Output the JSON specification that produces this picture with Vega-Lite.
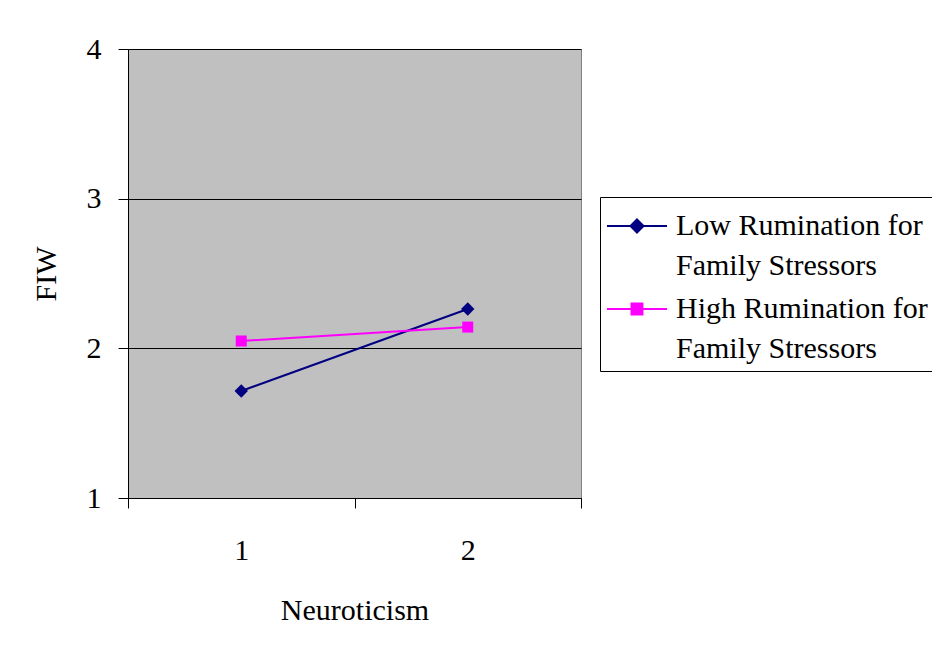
{
  "$schema": "https://vega.github.io/schema/vega-lite/v6.json",
  "width": 453,
  "height": 449,
  "autosize": {"type": "none"},
  "padding": {"left": 128, "top": 49, "right": 351, "bottom": 159},
  "background": "white",
  "config": {
    "font": "Liberation Serif",
    "view": {"fill": "#C0C0C0", "stroke": "#808080", "strokeWidth": 1},
    "axis": {
      "domainColor": "black",
      "tickColor": "black",
      "labelColor": "black",
      "titleColor": "black",
      "labelFont": "Liberation Serif",
      "titleFont": "Liberation Serif",
      "labelFontSize": 30,
      "titleFontSize": 30,
      "titleFontWeight": "normal",
      "tickSize": 10
    }
  },
  "data": {
    "values": [
      {"n": "1", "g": "Low Rumination for Family Stressors", "fiw": 1.715},
      {"n": "2", "g": "Low Rumination for Family Stressors", "fiw": 2.263},
      {"n": "1", "g": "High Rumination for Family Stressors", "fiw": 2.049},
      {"n": "2", "g": "High Rumination for Family Stressors", "fiw": 2.142}
    ]
  },
  "encoding": {
    "x": {
      "field": "n",
      "type": "ordinal",
      "scale": {"type": "band", "paddingInner": 0, "paddingOuter": 0},
      "axis": {
        "title": "Neuroticism",
        "labelAngle": 0,
        "tickBand": "extent",
        "labelPadding": 27,
        "titlePadding": 30
      }
    },
    "y": {
      "field": "fiw",
      "type": "quantitative",
      "scale": {"domain": [1, 4], "nice": false, "zero": false},
      "axis": {
        "title": "FIW",
        "values": [1, 2, 3, 4],
        "format": "d",
        "grid": true,
        "gridColor": "black",
        "gridOpacity": 1,
        "gridWidth": 1,
        "labelPadding": 17,
        "titlePadding": 25
      }
    },
    "color": {
      "field": "g",
      "type": "nominal",
      "scale": {
        "domain": ["Low Rumination for Family Stressors", "High Rumination for Family Stressors"],
        "range": ["#000080", "#FF00FF"]
      }
    }
  },
  "layer": [
    {
      "mark": {"type": "line", "strokeWidth": 2},
      "encoding": {
        "color": {
          "field": "g",
          "type": "nominal",
          "scale": {
            "domain": ["Low Rumination for Family Stressors", "High Rumination for Family Stressors"],
            "range": ["#000080", "#FF00FF"]
          },
          "legend": {
            "title": null,
            "orient": "none",
            "legendX": 472,
            "legendY": 148,
            "padding": 7,
            "strokeColor": "black",
            "fillColor": "white",
            "symbolSize": 1764,
            "symbolStrokeWidth": 2,
            "labelFont": "Liberation Serif",
            "labelFontSize": 30,
            "labelColor": "black",
            "labelLimit": 400,
            "labelOffset": 25,
            "rowPadding": 6,
            "labelExpr": "datum.value == 'Low Rumination for Family Stressors' ? ['Low Rumination for', 'Family Stressors'] : ['High Rumination for', 'Family Stressors']",
            "encode": {
              "labels": {
                "update": {
                  "lineHeight": {"value": 40}
                }
              },
              "symbols": {
                "update": {
                  "shape": {"signal": "datum.value == 'Low Rumination for Family Stressors' ? 'M-1.05,0H1.81M0.38,-0.31L0.69,0L0.38,0.31L0.07,0Z' : 'M-1.05,0H1.81M0.12,-0.26H0.64V0.26H0.12Z'"},
                  "size": {"value": 1764},
                  "fill": {"scale": "color", "field": "value"},
                  "stroke": {"scale": "color", "field": "value"},
                  "strokeWidth": {"value": 2},
                  "opacity": {"value": 1}
                }
              }
            }
          }
        }
      }
    },
    {
      "transform": [{"filter": "datum.g == 'Low Rumination for Family Stressors'"}],
      "mark": {"type": "point", "shape": "diamond", "size": 180, "filled": true, "opacity": 1}
    },
    {
      "transform": [{"filter": "datum.g == 'High Rumination for Family Stressors'"}],
      "mark": {"type": "point", "shape": "square", "size": 121, "filled": true, "opacity": 1}
    }
  ]
}
